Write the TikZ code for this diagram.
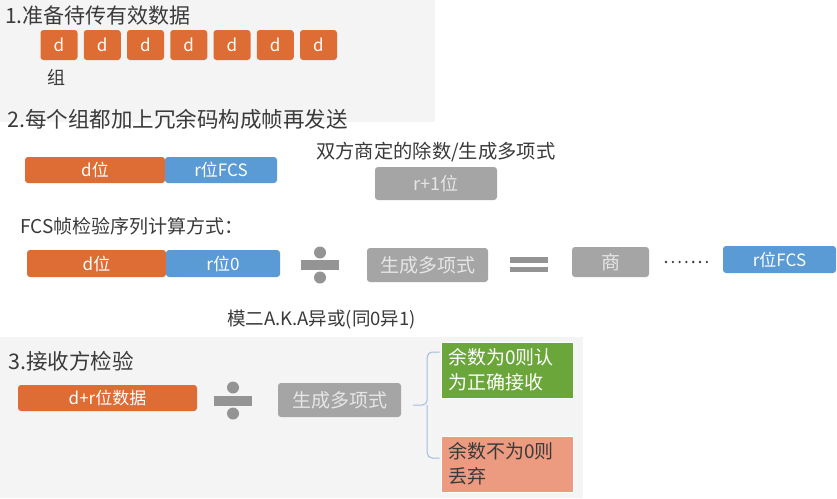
\documentclass[tikz,border=0pt]{standalone}
\usepackage{fontspec}
\usetikzlibrary{calc}
\setmainfont{Noto Sans CJK SC}
\newcommand{\fsz}[1]{\fontsize{#1}{#1}\selectfont}
\definecolor{panel}{HTML}{F4F4F4}
\definecolor{dorange}{HTML}{DD6D35}
\definecolor{rblue}{HTML}{5B9BD5}
\definecolor{pgray}{HTML}{A5A5A5}
\definecolor{okgreen}{HTML}{6AA63A}
\definecolor{badred}{HTML}{EC9B80}
\definecolor{bracecol}{HTML}{A4BCDB}
\definecolor{ink}{HTML}{3A3A3A}
\definecolor{graytext}{HTML}{E6E6E6}
\begin{document}
\begin{tikzpicture}[x=1pt,y=-1pt,
  heading/.style={anchor=west, inner sep=0, text=ink, font=\fsz{21.5}},
  plain/.style={anchor=west, inner sep=0, text=ink, font=\fsz{18}},
  bitbox/.style={rounded corners=3pt, inner sep=0, text=white, font=\fsz{17}},
  dbox/.style={bitbox, fill=dorange},
  rbox/.style={bitbox, fill=rblue},
  gbox/.style={bitbox, fill=pgray, text=graytext, font=\fsz{19}},
  resbox/.style={inner sep=0, minimum width=132, minimum height=56, draw=white, line width=0.6pt,
    text width=118, align=left, font={\fontsize{19}{25}\selectfont}},
  opfill/.style={fill=pgray!90!black}
]
\useasboundingbox (0,0) rectangle (837,498);
\fill[white] (0,0) rectangle (837,498);
% light panels behind steps 1 and 3
\fill[panel] (0,0) rectangle (435,122);
\fill[panel] (0,337) rectangle (583,498);

% ---- step 1: data groups ----
\node[heading, font=\fsz{21}] (h1) at (5,16) {1.准备待传有效数据};
\foreach \i in {0,...,6} {
  \node[dbox, minimum width=37, minimum height=30] (d\i) at ({59+43.25*\i},45) {d};
}
\node[plain] (grp) at (47,77) {组};

% ---- step 2: frame ----
\node[heading] (h2) at (7,119) {2.每个组都加上冗余码构成帧再发送};
\node[dbox, minimum width=140, minimum height=26] (fd) at (95,170) {d位};
\node[rbox, minimum width=112, minimum height=26] (fr) at (221,170) {r位FCS};
\node[plain, font=\fsz{19.3}] (divtxt) at (316,152) {双方商定的除数/生成多项式};
\node[gbox, minimum width=122, minimum height=33, font=\fsz{18}] (gen1) at (436,183.5) {r+1位};

\node[plain, font=\fsz{19}] (fcs) at (20,226) {FCS帧检验序列计算方式：};
\node[dbox, minimum width=139, minimum height=27] (cd) at (96.5,263.5) {d位};
\node[rbox, minimum width=114, minimum height=27] (cr) at (223,263.5) {r位0};

% division sign
\coordinate (div1) at (320,265);
\fill[opfill] ($(div1)+(-19,-5)$) rectangle ($(div1)+(19,5)$);
\fill[opfill] ($(div1)+(0,-12.5)$) circle (6);
\fill[opfill] ($(div1)+(0,12.5)$) circle (6);

\node[gbox, minimum width=121, minimum height=34] (gen2) at (427.5,265) {生成多项式};

% equals sign
\coordinate (eq) at (529,264.5);
\fill[opfill] ($(eq)+(-19,-7.5)$) rectangle ($(eq)+(19,-2)$);
\fill[opfill] ($(eq)+(-19,2)$) rectangle ($(eq)+(19,7.5)$);

\node[gbox, minimum width=77, minimum height=30] (quo) at (610.5,262) {商};
\foreach \k in {0,...,6} {
  \fill[ink] ({666+6.8*\k},262) circle (1.3);
}
\node[rbox, minimum width=113, minimum height=27] (fcsout) at (779.5,259.5) {r位FCS};

\node[plain, font=\fsz{18.5}] (mod2) at (227,320) {模二A.K.A异或(同0异1)};

% ---- step 3: receiver check ----
\node[heading] (h3) at (8,361) {3.接收方检验};
\node[dbox, minimum width=179, minimum height=26] (rx) at (107.5,398) {d+r位数据};

\coordinate (div2) at (233,400.5);
\fill[opfill] ($(div2)+(-19,-5)$) rectangle ($(div2)+(19,5)$);
\fill[opfill] ($(div2)+(0,-13)$) circle (6);
\fill[opfill] ($(div2)+(0,13)$) circle (6);

\node[gbox, minimum width=123, minimum height=34] (gen3) at (339.5,400) {生成多项式};

\node[resbox, fill=okgreen, text=white] (ok) at (507,370) {余数为0则认\\为正确接收};
\node[resbox, fill=badred, text=ink] (bad) at (507,464) {余数不为0则\\丢弃};

% brace from the divisor to both outcomes
\coordinate (bt) at ($(gen3.east)+(12,5)$);
\coordinate (bm) at ($(bt)+(14,0)$);
\draw[bracecol, line width=1pt, rounded corners=5pt]
  (bt) -- (bm) |- ($(ok.west)+(-1,-18)$);
\draw[bracecol, line width=1pt, rounded corners=5pt]
  (bm) |- ($(bad.west)+(-1,-6)$);
\end{tikzpicture}
\end{document}
